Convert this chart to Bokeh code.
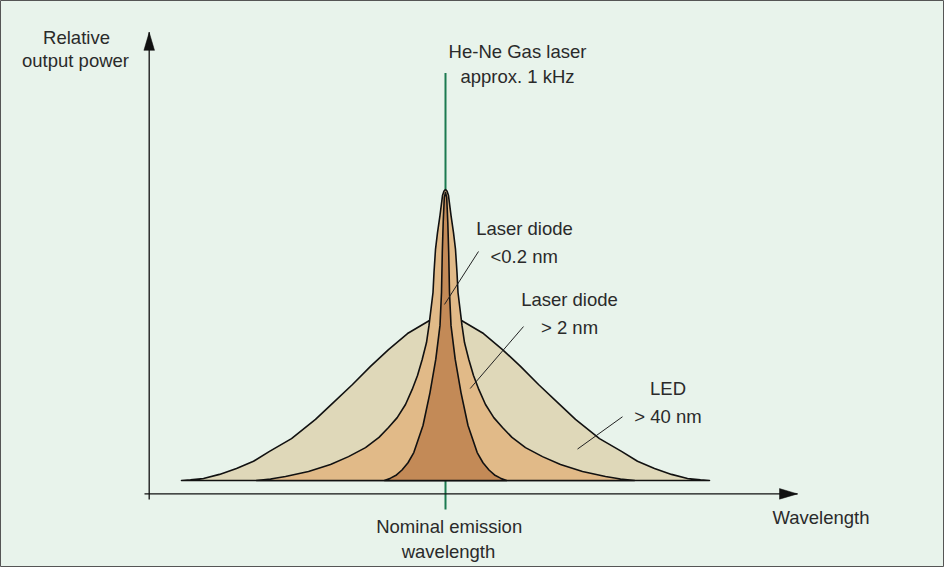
import numpy as np
from bokeh.plotting import figure
from bokeh.models import Range1d, Label
from bokeh.embed import file_html
from bokeh.resources import INLINE

# ---- data ----
# half-profiles of the emission spectra: offset from nominal wavelength (arb. units) and relative power
led_offset = [0, 16, 38, 57, 75, 93, 113, 130, 154, 176, 192, 209, 226, 242, 255, 264]
led_power = [0.557, 0.550, 0.505, 0.450, 0.392, 0.330, 0.265, 0.210, 0.144, 0.100,
             0.066, 0.041, 0.021, 0.007, 0.002, 0.0]

ld2_offset = [0, 1.5, 3, 5.5, 8, 10, 11.5, 12.5, 16.5, 19, 23.3, 28, 33.3, 40, 48.3, 57, 66.5, 80, 97,
              115, 137, 160, 175, 189]
ld2_power = [1.0, 0.995, 0.979, 0.911, 0.852, 0.794, 0.715, 0.646, 0.533, 0.474, 0.416, 0.361, 0.313,
             0.261, 0.216, 0.182, 0.148, 0.113, 0.082, 0.055, 0.031, 0.014, 0.005, 0.0]

ld02_offset = [0, 1.2, 2.3, 3.2, 4.0, 5.5, 9.7, 15.5, 22.5, 31.7, 37.5, 43.5, 49, 55, 61]
ld02_power = [0.990, 0.973, 0.887, 0.784, 0.646, 0.533, 0.417, 0.302, 0.189, 0.096, 0.061, 0.036,
              0.019, 0.008, 0.0]

nominal_wavelength = 0.0
hene_power = [-0.10, 1.40]

# axes of the schematic (data units)
yaxis_x = -296.3
yaxis_span = [-0.065, 1.540]
xaxis_y = -0.046
xaxis_span = [-301, 352]

# ---- figure ----
W, H = 944, 567
x0, x1 = -445, 499
y0, y1 = -0.299, 1.6495
ypx = H / (y1 - y0)  # pixels per y unit

p = figure(width=W, height=H, output_backend="svg", toolbar_location=None,
           x_range=Range1d(x0, x1), y_range=Range1d(y0, y1), min_border=0)
p.axis.visible = False
p.grid.visible = False
p.background_fill_color = "#E8F3EB"
p.border_fill_color = "#E8F3EB"
p.outline_line_color = "#555555"
p.outline_line_width = 1


def mirror(offset, power, center):
    o = np.asarray(offset, float)
    pw = np.asarray(power, float)
    xs = np.concatenate([center - o[::-1], center + o[1:]])
    ys = np.concatenate([pw[::-1], pw[1:]])
    return xs, ys


# He-Ne line (behind everything)
p.line([nominal_wavelength, nominal_wavelength], hene_power, line_color="#1B7A50", line_width=2)

for off, pw, col in [(led_offset, led_power, "#DFD8B9"),
                     (ld2_offset, ld2_power, "#E1BA88"),
                     (ld02_offset, ld02_power, "#C38A57")]:
    xs, ys = mirror(off, pw, nominal_wavelength)
    p.patch(xs, ys, fill_color=col, line_color="#111111", line_width=1.6, line_join="round")

# axes
p.line([yaxis_x, yaxis_x], yaxis_span, line_color="#111111", line_width=1.3)
p.line(xaxis_span, [xaxis_y, xaxis_y], line_color="#111111", line_width=1.3)
# arrow heads (length 18 px, half width 5.3 px)
L, hw = 18, 5.3
p.patch([yaxis_x, yaxis_x - hw, yaxis_x + hw],
        [yaxis_span[1], yaxis_span[1] - L / ypx, yaxis_span[1] - L / ypx],
        fill_color="#111111", line_color="#111111", line_width=0.5)
p.patch([xaxis_span[1], xaxis_span[1] - L, xaxis_span[1] - L],
        [xaxis_y, xaxis_y + hw / ypx, xaxis_y - hw / ypx],
        fill_color="#111111", line_color="#111111", line_width=0.5)

# leader lines
leaders = [((33, 0.787), (-1, 0.605)),
           ((78, 0.529), (24.7, 0.316)),
           ((177, 0.219), (132, 0.108))]
for (ax, ay), (bx, by) in leaders:
    p.line([ax, bx], [ay, by], line_color="#222222", line_width=1)

labels = [
    ("Relative", -369, 1.496),
    ("output power", -370, 1.416),
    ("He-Ne Gas laser", 72, 1.448),
    ("approx. 1 kHz", 72, 1.362),
    ("Laser diode", 79, 0.838),
    ("<0.2 nm", 78.7, 0.741),
    ("Laser diode", 124, 0.595),
    ("> 2 nm", 124, 0.499),
    ("LED", 222.5, 0.289),
    ("> 40 nm", 222.5, 0.193),
    ("Nominal emission", 3.7, -0.185),
    ("wavelength", 3, -0.270),
    ("Wavelength", 375.5, -0.154),
]
shift = 8 / ypx  # compensate label baseline placement
for t, x, y in labels:
    p.add_layout(Label(x=x, y=y + shift, text=t, text_align="center", text_baseline="alphabetic",
                       text_font="Liberation Sans", text_font_size="18.5px", text_color="#2a2a2a"))

open("out.html", "w").write(file_html(p, INLINE))
